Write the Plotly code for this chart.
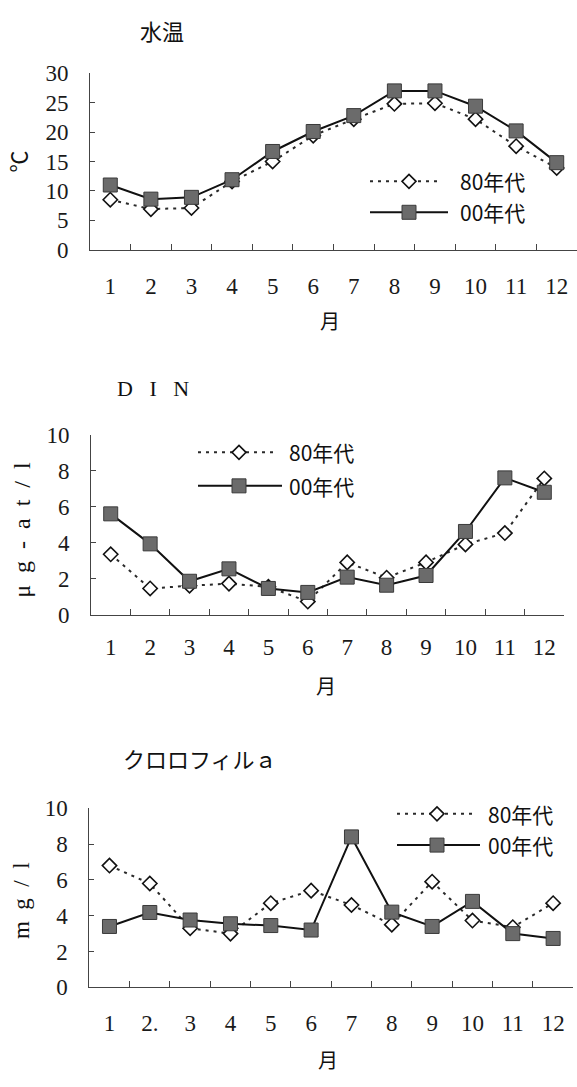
import plotly.graph_objects as go

# Monthly seasonal values, 1980s vs 2000s
months = ["1", "2", "3", "4", "5", "6", "7", "8", "9", "10", "11", "12"]
months_chl = ["1", "2.", "3", "4", "5", "6", "7", "8", "9", "10", "11", "12"]

temp_80s = [8.5, 6.9, 7.1, 11.6, 15.0, 19.4, 22.2, 24.8, 24.9, 22.2, 17.6, 13.9]
temp_00s = [11.0, 8.6, 8.9, 11.9, 16.7, 20.1, 22.8, 27.0, 27.0, 24.4, 20.2, 14.8]

din_80s = [3.35, 1.45, 1.6, 1.72, 1.54, 0.72, 2.9, 2.05, 2.9, 3.9, 4.53, 7.57]
din_00s = [5.6, 3.93, 1.85, 2.54, 1.45, 1.23, 2.08, 1.63, 2.17, 4.62, 7.6, 6.8]

chl_80s = [6.8, 5.8, 3.3, 3.0, 4.7, 5.4, 4.6, 3.5, 5.9, 3.73, 3.36, 4.7]
chl_00s = [3.4, 4.18, 3.76, 3.55, 3.45, 3.2, 8.4, 4.2, 3.4, 4.8, 3.0, 2.73]

series_names = ["80年代", "00年代"]
panel_titles = ["水温", "D   I   N", "クロロフィルａ"]
y_titles = ["℃", "μ  g  -  a  t  /  l", "m  g  /  l"]
x_title = "月"

W, H = 577, 1087
INK = "#2a2a2a"
SQ_FILL = "#6b6b6b"
DOT = "3px,5px"


def px(x):
    return x / W


def py(y):
    return 1 - y / H


# pixel frames of the three plot areas: (left, right, top, bottom)
frames = [(90, 577, 62.7, 243.3), (91, 564, 432.7, 616.7), (89.3, 573.3, 815, 998.3)]
y_ranges = [(0, 30, 5), (0, 10, 2), (0, 10, 2)]
x_standoff = [16, 12, 15]
panels = [
    (months, temp_80s, temp_00s),
    (months, din_80s, din_00s),
    (months_chl, chl_80s, chl_00s),
]

fig = go.Figure()
layout = dict(
    width=W, height=H, margin=dict(l=0, r=0, t=0, b=0),
    paper_bgcolor="white", plot_bgcolor="white", showlegend=False,
)

tick_font = dict(family="Liberation Serif, serif", size=23, color="#1a1a1a")

for i, ((cats, s80, s00), (l, r, t, b), (y0, y1, dy)) in enumerate(zip(panels, frames, y_ranges)):
    n = "" if i == 0 else str(i + 1)
    xa, ya = "x" + n, "y" + n
    fig.add_trace(go.Scatter(
        x=cats, y=s80, name=series_names[0], xaxis=xa, yaxis=ya, mode="lines+markers",
        line=dict(color=INK, width=2, dash=DOT),
        marker=dict(symbol="diamond", size=11, color="white", line=dict(color="#111", width=1.6)),
        cliponaxis=False,
    ))
    fig.add_trace(go.Scatter(
        x=cats, y=s00, name=series_names[1], xaxis=xa, yaxis=ya, mode="lines+markers",
        line=dict(color="#111", width=2),
        marker=dict(symbol="square", size=14, color=SQ_FILL, line=dict(color="#3a3a3a", width=1)),
        cliponaxis=False,
    ))
    layout["xaxis" + n] = dict(
        domain=[px(l), px(r)], anchor=ya, type="category", range=[-0.5, 11.5],
        showline=True, linecolor="#444", linewidth=1, showgrid=False, zeroline=False,
        ticks="inside", tickson="boundaries", ticklen=6, tickcolor="#444", tickwidth=1,
        tickfont=tick_font, ticklabelstandoff=x_standoff[i], fixedrange=True,
    )
    layout["yaxis" + n] = dict(
        domain=[py(b), py(t)], anchor=xa, range=[y0, y1], dtick=dy, tick0=0,
        showline=True, linecolor="#444", linewidth=1, showgrid=False, zeroline=False,
        ticks="inside", ticklen=5, tickcolor="#444", tickwidth=1,
        tickfont=dict(family="Liberation Serif, serif", size=23, color="#1a1a1a"),
        ticklabelstandoff=16, fixedrange=True,
    )

annotations = []
cjk = "Noto Sans CJK JP"

# panel titles
for (txt, x, y, fam, size) in [
    (panel_titles[0], 138, 18, cjk, 22),
    (panel_titles[1], 115, 385, "Liberation Serif", 22),
    (panel_titles[2], 121, 764, cjk, 22),
]:
    annotations.append(dict(text=txt, x=px(x), y=py(y), xref="paper", yref="paper",
                            xanchor="left", yanchor="middle", showarrow=False,
                            font=dict(family=fam, size=size, color="#111")))

# y-axis titles
for (txt, x, y, fam, size) in [
    (y_titles[0], 17, 153, cjk, 22),
    (y_titles[1], 22, 530, "Liberation Serif", 24),
    (y_titles[2], 21, 910, "Liberation Serif", 23),
]:
    annotations.append(dict(text=txt, x=px(x), y=py(y), xref="paper", yref="paper",
                            xanchor="center", yanchor="middle", textangle=-90, showarrow=False,
                            font=dict(family=fam, size=size, color="#111")))

# x-axis titles
for (x, y) in [(330, 316), (326, 689), (328, 1072)]:
    annotations.append(dict(text=x_title, x=px(x), y=py(y), xref="paper", yref="paper",
                            xanchor="center", yanchor="middle", showarrow=False,
                            font=dict(family=cjk, size=20, color="#111")))

# legend keys: (line left, line right, marker x, row y for 80s, row y for 00s, text x)
legend_rows = [
    (370, 448, 409, 173.3, 205, 458),
    (198, 282, 239, 450.7, 485, 287),
    (397, 480, 437, 820.7, 852.7, 486),
]
shapes = []
leg_font = dict(family="Liberation Sans Narrow, " + cjk, size=21, color="#111")
for (xl, xr, xm, y80, y00, xt) in legend_rows:
    shapes.append(dict(type="line", xref="paper", yref="paper", x0=px(xl), x1=px(xr - 6),
                       y0=py(y80), y1=py(y80), line=dict(color=INK, width=2, dash=DOT)))
    shapes.append(dict(type="path", xref="paper", yref="paper", xsizemode="pixel", ysizemode="pixel",
                       xanchor=px(xm), yanchor=py(y80), path="M-7,0L0,7L7,0L0,-7Z",
                       fillcolor="white", line=dict(color="#111", width=1.6)))
    shapes.append(dict(type="line", xref="paper", yref="paper", x0=px(xl), x1=px(xr),
                       y0=py(y00), y1=py(y00), line=dict(color="#111", width=2)))
    shapes.append(dict(type="path", xref="paper", yref="paper", xsizemode="pixel", ysizemode="pixel",
                       xanchor=px(xm), yanchor=py(y00), path="M-7,-7L7,-7L7,7L-7,7Z",
                       fillcolor=SQ_FILL, line=dict(color="#3a3a3a", width=1)))
    for name, yy in zip(series_names, (y80, y00)):
        annotations.append(dict(text=name, x=px(xt), y=py(yy), xref="paper", yref="paper",
                                xanchor="left", yanchor="middle", showarrow=False, font=leg_font))

layout["annotations"] = annotations
layout["shapes"] = shapes
fig.update_layout(**layout)
fig.write_html("out.html")
